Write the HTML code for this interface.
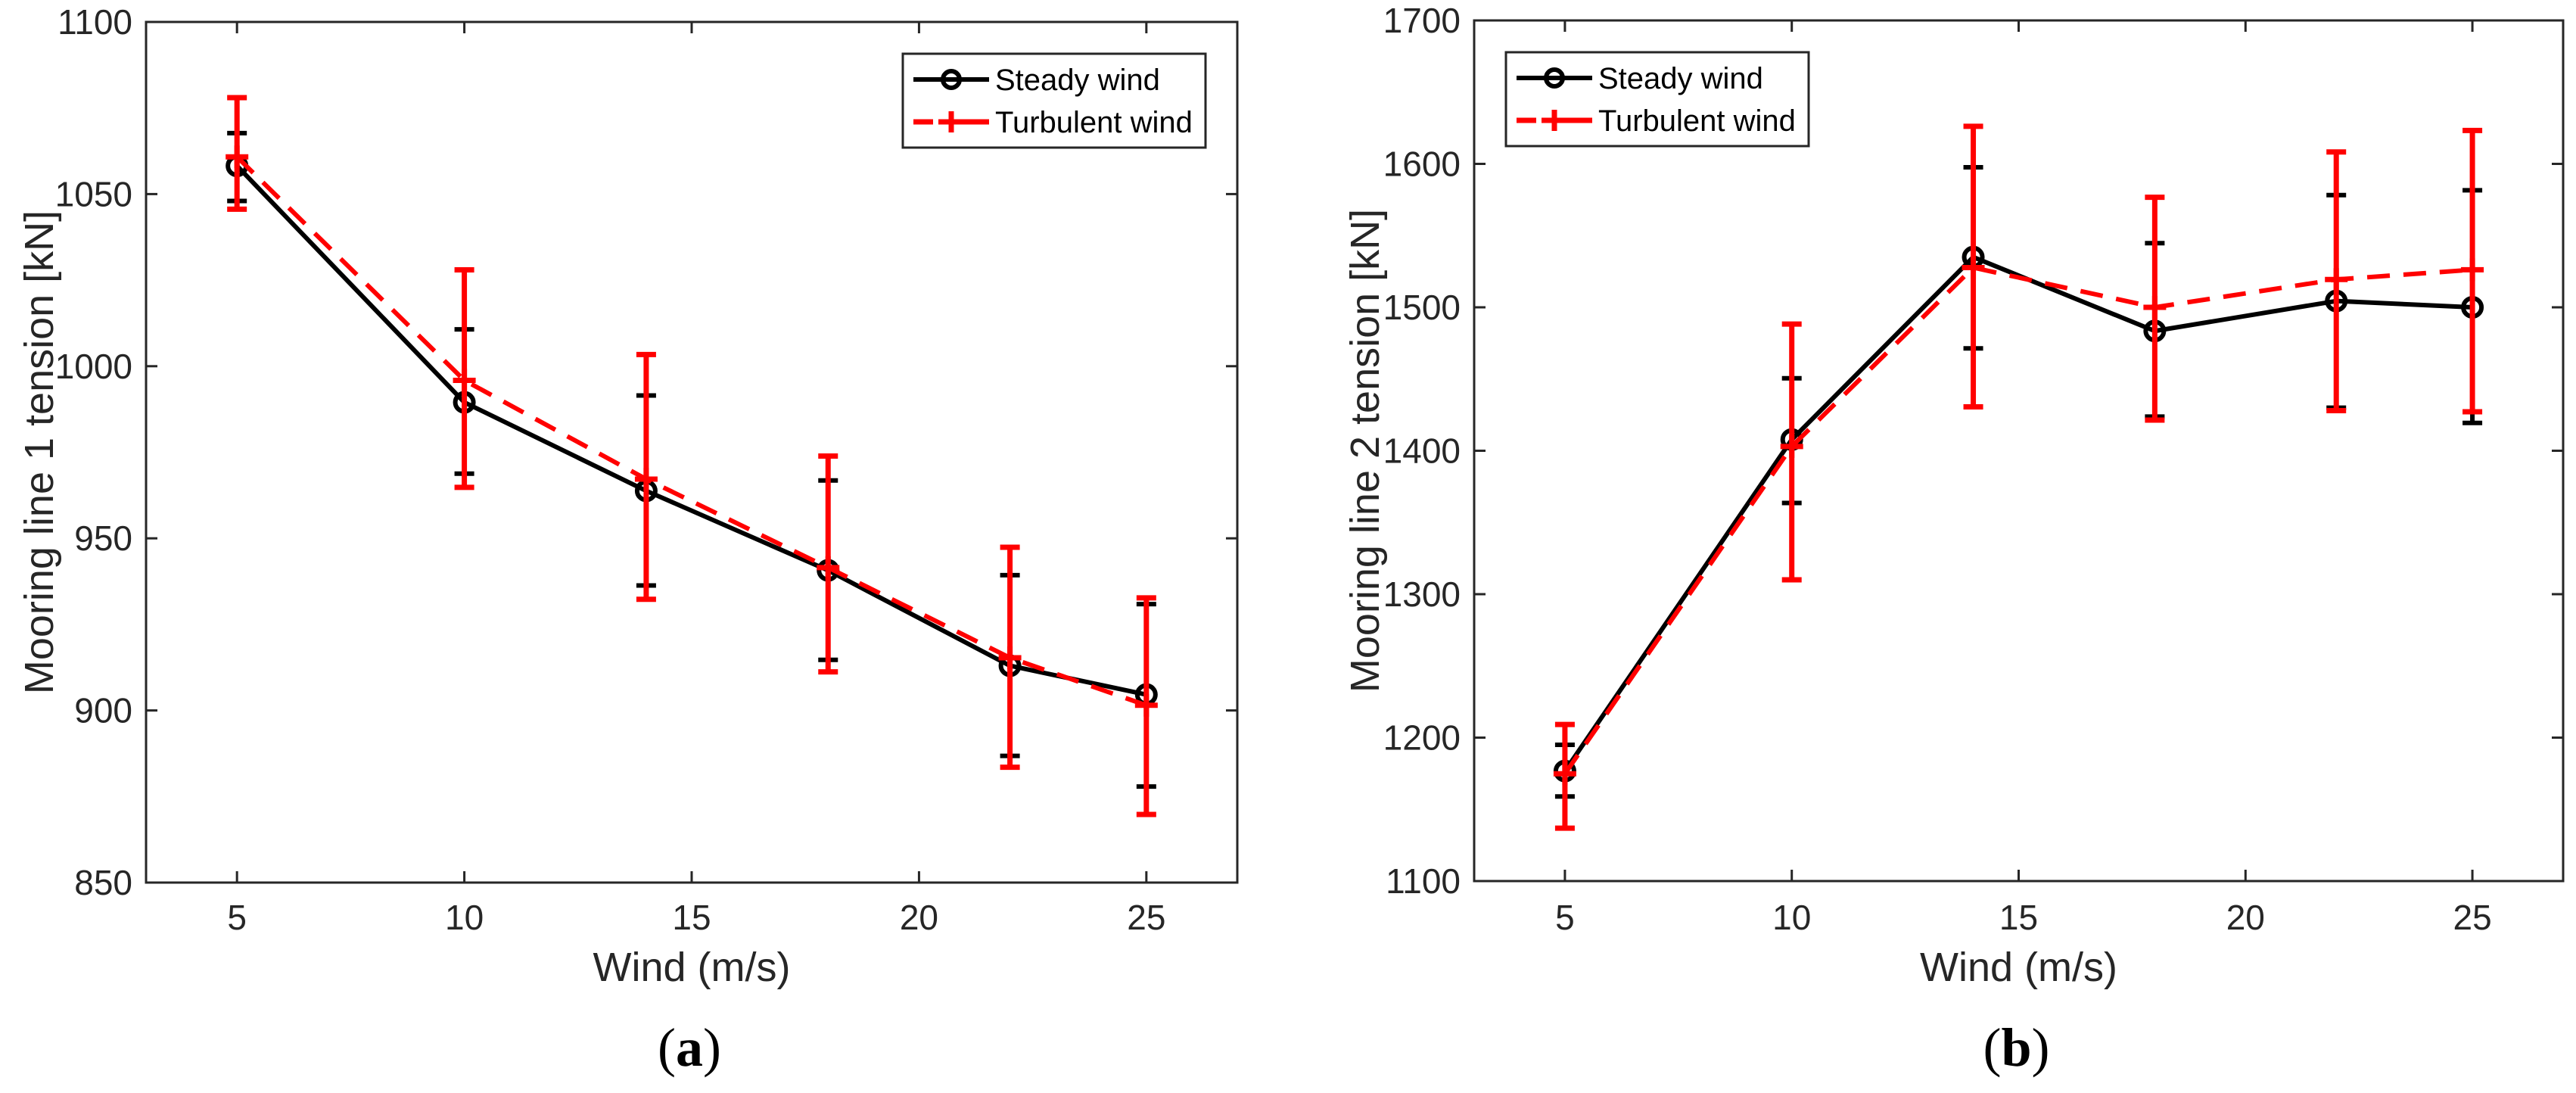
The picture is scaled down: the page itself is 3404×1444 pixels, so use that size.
<!DOCTYPE html>
<html><head><meta charset="utf-8"><style>
html,body{margin:0;padding:0;background:#fff;}
svg{display:block;}
text{font-family:"Liberation Sans",sans-serif;fill:#262626;}
</style></head><body>
<svg id="fig" width="3404" height="1444" viewBox="0 0 3404 1444" xmlns="http://www.w3.org/2000/svg"></svg>
<script>
const categories = [5, 10, 14, 18, 22, 25];
const xTicks = [5, 10, 15, 20, 25];
// panel a
const aSteady = [1058.2, 989.5, 963.8, 940.7, 913.0, 904.6];
const aSteadyLo = [1048.0, 968.8, 936.3, 914.7, 886.8, 877.9];
const aSteadyHi = [1067.7, 1010.7, 991.5, 966.8, 939.3, 930.9];
const aTurb = [1060.8, 995.9, 967.2, 941.5, 915.3, 901.5];
const aTurbLo = [1045.6, 964.8, 932.3, 911.2, 883.5, 869.8];
const aTurbHi = [1078.0, 1028.0, 1003.4, 973.9, 947.4, 932.7];
const aYTicks = [850, 900, 950, 1000, 1050, 1100];
// panel b
const bSteady = [1176.7, 1407.8, 1535.0, 1483.5, 1504.4, 1500.0];
const bSteadyLo = [1159.0, 1363.6, 1471.4, 1423.8, 1430.0, 1419.4];
const bSteadyHi = [1195.0, 1450.5, 1597.6, 1544.7, 1578.2, 1581.6];
const bTurb = [1174.8, 1403.0, 1527.7, 1500.0, 1519.4, 1526.2];
const bTurbLo = [1136.9, 1310.0, 1430.6, 1421.4, 1428.0, 1427.2];
const bTurbHi = [1209.2, 1488.3, 1626.2, 1576.7, 1608.3, 1623.3];
const bYTicks = [1100, 1200, 1300, 1400, 1500, 1600, 1700];

const NS = "http://www.w3.org/2000/svg";
const svg = document.getElementById('fig');
function mk(tag, attrs, parent, txt){
  const e = document.createElementNS(NS, tag);
  for (const k in attrs) e.setAttribute(k, attrs[k]);
  if (txt !== undefined) e.textContent = txt;
  (parent || svg).appendChild(e);
  return e;
}

function panel(o){
  const g = mk('g', {});
  
  
  const X = v => o.L + (v - 3) / 24 * (o.R - o.L);
  const Y = v => o.B - (v - o.ymin) / (o.ymax - o.ymin) * (o.B - o.T);
  const ax = mk('g', {stroke:'#262626','stroke-width':3,fill:'none'}, g);
  
  
  mk('rect', {x:o.L, y:o.T, width:o.R-o.L, height:o.B-o.T}, ax);
  xTicks.forEach(t => {
    const x = X(t);
    mk('line', {x1:x, y1:o.B, x2:x, y2:o.B-15}, ax);
    mk('line', {x1:x, y1:o.T, x2:x, y2:o.T+15}, ax);
    const tl = mk('text', {x:x, y:1228, 'font-size':46, 'text-anchor':'middle'}, g, String(t));
    
    
  });
  o.yt.forEach(t => {
    const y = Y(t);
    mk('line', {x1:o.L, y1:y, x2:o.L+15, y2:y}, ax);
    mk('line', {x1:o.R, y1:y, x2:o.R-15, y2:y}, ax);
    const tl = mk('text', {x:o.L-18, y:y+16, 'font-size':46, 'text-anchor':'end'}, g, String(t));
    
    
  });
  const sp = categories.map((c,i)=>X(c)+','+Y(o.s[i])).join(' ');
  const sl = mk('polyline', {points:sp, fill:'none', stroke:'#000', 'stroke-width':6, 'stroke-linejoin':'round'}, g);
  
  
  categories.forEach((c,i)=>{
    const x = X(c);
    const eb = mk('g', {stroke:'#000','stroke-width':6}, g);
    
    
    mk('line', {x1:x, y1:Y(o.sl[i]), x2:x, y2:Y(o.sh[i])}, eb);
    mk('line', {x1:x-13, y1:Y(o.sl[i]), x2:x+13, y2:Y(o.sl[i])}, eb);
    mk('line', {x1:x-13, y1:Y(o.sh[i]), x2:x+13, y2:Y(o.sh[i])}, eb);
    const m = mk('circle', {cx:x, cy:Y(o.s[i]), r:12, fill:'none', stroke:'#000', 'stroke-width':6}, g);
    
    
  });
  const tp = categories.map((c,i)=>X(c)+','+Y(o.t[i])).join(' ');
  const tline = mk('polyline', {points:tp, fill:'none', stroke:'#f00', 'stroke-width':6, 'stroke-dasharray':'30 18'}, g);
  
  
  categories.forEach((c,i)=>{
    const x = X(c);
    const eb = mk('g', {stroke:'#f00','stroke-width':7}, g);
    
    
    mk('line', {x1:x, y1:Y(o.tl[i]), x2:x, y2:Y(o.th[i])}, eb);
    mk('line', {x1:x-13, y1:Y(o.tl[i]), x2:x+13, y2:Y(o.tl[i])}, eb);
    mk('line', {x1:x-13, y1:Y(o.th[i]), x2:x+13, y2:Y(o.th[i])}, eb);
    const y = Y(o.t[i]);
    const m = mk('path', {d:`M${x-15},${y}H${x+15}M${x},${y-15}V${y+15}`, stroke:'#f00','stroke-width':7}, g);
    
    
  });
  const lg = mk('g', {}, g);
  
  
  mk('rect', {x:o.lx, y:o.ly, width:400, height:124, fill:'#fff', stroke:'#262626','stroke-width':3}, lg);
  const r1 = o.ly+34, r2 = o.ly+90;
  mk('line', {x1:o.lx+14, y1:r1, x2:o.lx+114, y2:r1, stroke:'#000','stroke-width':6}, lg);
  mk('circle', {cx:o.lx+64, cy:r1, r:11, fill:'none', stroke:'#000','stroke-width':6}, lg);
  mk('path', {d:`M${o.lx+14},${r2}H${o.lx+40}M${o.lx+47},${r2}H${o.lx+114}M${o.lx+64},${r2-14}V${r2+14}`, stroke:'#f00','stroke-width':7}, lg);
  const e1 = mk('text', {x:o.lx+122, y:r1+14, 'font-size':40, style:'fill:#000'}, lg, 'Steady wind');
  
  
  const e2 = mk('text', {x:o.lx+122, y:r2+14, 'font-size':40, style:'fill:#000'}, lg, 'Turbulent wind');
  
  
  const xl = mk('text', {x:(o.L+o.R)/2, y:1296, 'font-size':54, 'text-anchor':'middle'}, g, 'Wind (m/s)');
  
  
  const yl = mk('text', {x:0, y:0, 'font-size':54, 'text-anchor':'middle', transform:`translate(${o.ylx},${(o.T+o.B)/2}) rotate(-90)`}, g, o.ytitle);
  
  
  const cap = mk('text', {x:(o.L+o.R)/2 - 3, y:1408, 'font-size':72, 'text-anchor':'middle', style:'font-family:"Liberation Serif",serif;fill:#000'}, g);
  
  
  mk('tspan', {}, cap, '(');
  mk('tspan', {'font-weight':'bold'}, cap, o.letter);
  mk('tspan', {}, cap, ')');
}

panel({id:'panel-a', L:193, R:1635, T:29, B:1166, ymin:850, ymax:1100, yt:aYTicks,
  s:aSteady, sl:aSteadyLo, sh:aSteadyHi, t:aTurb, tl:aTurbLo, th:aTurbHi,
  lx:1193, ly:71, ylx:70, ytitle:'Mooring line 1 tension [kN]', letter:'a'});
panel({id:'panel-b', L:1948, R:3387, T:27, B:1164, ymin:1100, ymax:1700, yt:bYTicks,
  s:bSteady, sl:bSteadyLo, sh:bSteadyHi, t:bTurb, tl:bTurbLo, th:bTurbHi,
  lx:1990, ly:69, ylx:1822, ytitle:'Mooring line 2 tension [kN]', letter:'b'});
</script>
</body></html>
